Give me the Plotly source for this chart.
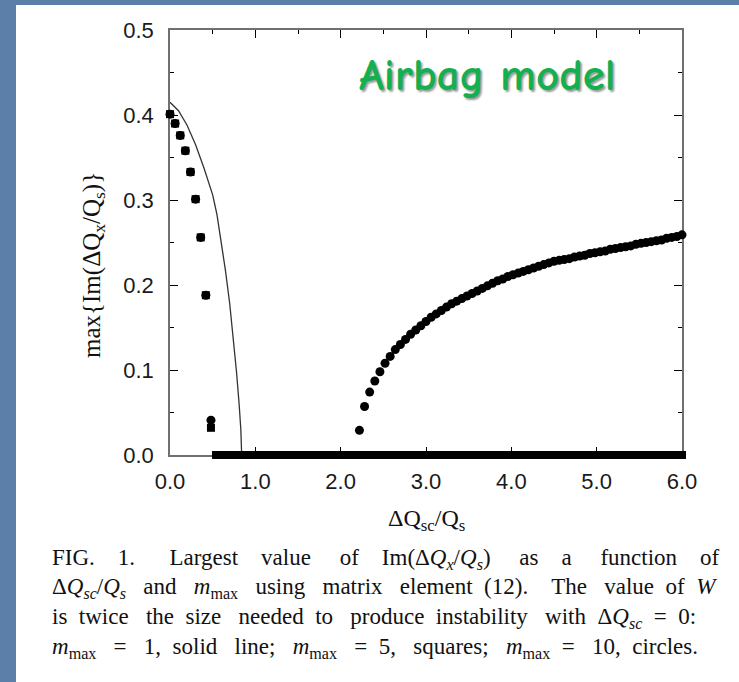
import plotly.graph_objects as go

# ---------------- data ----------------
# m_max = 1 (solid line)
line_x = [0.0, 0.1, 0.2, 0.3, 0.4, 0.45, 0.5, 0.55, 0.6, 0.65, 0.7, 0.75, 0.78, 0.81, 0.83, 0.84]
line_y = [0.415, 0.405, 0.388, 0.365, 0.337, 0.322, 0.306, 0.283, 0.252, 0.217, 0.178, 0.130, 0.097, 0.060, 0.030, 0.0]

# left branch (both m_max = 5 and m_max = 10)
left_x = [0.0, 0.06, 0.12, 0.18, 0.24, 0.30, 0.36, 0.42, 0.48]
left_sq = [0.401, 0.390, 0.376, 0.358, 0.333, 0.301, 0.256, 0.188, 0.032]
left_ci = [0.401, 0.390, 0.376, 0.358, 0.333, 0.301, 0.256, 0.188, 0.041]

# stable region (zero growth)
zero_x = [0.54, 0.60, 0.66, 0.72, 0.78, 0.84, 0.90, 0.96, 1.02, 1.08, 1.14, 1.20, 1.26, 1.32,
          1.38, 1.44, 1.50, 1.56, 1.62, 1.68, 1.74, 1.80, 1.86, 1.92, 1.98, 2.04, 2.10, 2.16,
          2.22, 2.28, 2.34, 2.40, 2.46, 2.52, 2.58, 2.64, 2.70, 2.76, 2.82, 2.88, 2.94, 3.00,
          3.06, 3.12, 3.18, 3.24, 3.30, 3.36, 3.42, 3.48, 3.54, 3.60, 3.66, 3.72, 3.78, 3.84,
          3.90, 3.96, 4.02, 4.08, 4.14, 4.20, 4.26, 4.32, 4.38, 4.44, 4.50, 4.56, 4.62, 4.68,
          4.74, 4.80, 4.86, 4.92, 4.98, 5.04, 5.10, 5.16, 5.22, 5.28, 5.34, 5.40, 5.46, 5.52,
          5.58, 5.64, 5.70, 5.76, 5.82, 5.88, 5.94, 6.00]
zero_y = [0.0] * len(zero_x)

# right branch (m_max = 10, circles)
right_x = [2.22, 2.28, 2.34, 2.40, 2.46, 2.52, 2.58, 2.64, 2.70, 2.76, 2.82, 2.88, 2.94, 3.00,
           3.06, 3.12, 3.18, 3.24, 3.30, 3.36, 3.42, 3.48, 3.54, 3.60, 3.66, 3.72, 3.78, 3.84,
           3.90, 3.96, 4.02, 4.08, 4.14, 4.20, 4.26, 4.32, 4.38, 4.44, 4.50, 4.56, 4.62, 4.68,
           4.74, 4.80, 4.86, 4.92, 4.98, 5.04, 5.10, 5.16, 5.22, 5.28, 5.34, 5.40, 5.46, 5.52,
           5.58, 5.64, 5.70, 5.76, 5.82, 5.88, 5.94, 6.00]
right_y = [0.029, 0.057, 0.074, 0.087, 0.098, 0.108, 0.116, 0.124, 0.130, 0.136, 0.142, 0.147,
           0.152, 0.157, 0.162, 0.166, 0.170, 0.174, 0.178, 0.181, 0.184, 0.187, 0.190, 0.193,
           0.196, 0.199, 0.202, 0.205, 0.207, 0.210, 0.212, 0.214, 0.216, 0.218, 0.220, 0.222,
           0.224, 0.226, 0.228, 0.229, 0.230, 0.231, 0.233, 0.234, 0.235, 0.237, 0.238, 0.239,
           0.240, 0.242, 0.243, 0.244, 0.245, 0.246, 0.248, 0.249, 0.250, 0.251, 0.252, 0.253,
           0.255, 0.256, 0.257, 0.259]

x_ticks = [0, 1, 2, 3, 4, 5, 6]
x_ticklabels = ["0.0", "1.0", "2.0", "3.0", "4.0", "5.0", "6.0"]
y_ticks = [0.0, 0.1, 0.2, 0.3, 0.4, 0.5]
y_ticklabels = ["0.0", "0.1", "0.2", "0.3", "0.4", "0.5"]

QX = "Δ<i>Q</i><sub><i>x</i></sub>/<i>Q</i><sub><i>s</i></sub>"
QSC = "Δ<i>Q</i><sub><i>sc</i></sub>"
QS = "<i>Q</i><sub><i>s</i></sub>"
MM = "<i>m</i><sub>max</sub>"
caption_words = [
    ["FIG.", "1.", "Largest", "value", "of", "Im(" + QX + ")", "as", "a", "function", "of"],
    [QSC + "/" + QS, "and", MM, "using", "matrix", "element", "(12).", "The", "value", "of", "<i>W</i>"],
    ["is", "twice", "the", "size", "needed", "to", "produce", "instability", "with", QSC, "=", "0:"],
    [MM, "=", "1,", "solid", "line;", MM, "=", "5,", "squares;", MM, "=", "10,", "circles."],
]
# number of spaces in each gap (justified layout)
caption_gaps = [
    [4, 6, 4, 5, 4, 5, 4, 5, 4],
    [3, 3, 3, 3, 3, 2, 4, 3, 2, 2],
    [2, 3, 2, 3, 2, 3, 2, 3, 2, 2, 2],
    [3, 3, 2, 3, 3, 3, 2, 3, 3, 2, 3, 2],
]

# ---------------- layout geometry ----------------
W, H = 739, 682
L, R, T, B = 170, 682, 30, 455   # plot area in pixels


def xp(px):
    return (px - L) / (R - L)


def yp(py):
    return (B - py) / (B - T)


fig = go.Figure()

fig.add_trace(go.Scatter(x=line_x, y=line_y, mode="lines",
                         line=dict(color="#333333", width=1.3), cliponaxis=False))
fig.add_trace(go.Scatter(x=left_x + zero_x, y=left_sq + zero_y, mode="markers",
                         marker=dict(symbol="square", size=8, color="black"), cliponaxis=False))
fig.add_trace(go.Scatter(x=left_x, y=left_ci, mode="markers",
                         marker=dict(symbol="circle", size=9, color="black"), cliponaxis=False))
fig.add_trace(go.Scatter(x=zero_x, y=zero_y, mode="markers",
                         marker=dict(symbol="circle", size=8, color="black"), cliponaxis=False))
fig.add_trace(go.Scatter(x=right_x, y=right_y, mode="markers",
                         marker=dict(symbol="circle", size=9, color="black"), cliponaxis=False))

axis_common = dict(
    showline=True, linecolor="#707070", linewidth=1.5, mirror="ticks",
    ticks="inside", ticklen=8, tickwidth=1.3, tickcolor="black",
    showgrid=False, zeroline=False, layer="below traces",
    tickfont=dict(family="Liberation Sans, Arial", size=22, color="#1a1a1a"),
)

fig.update_xaxes(range=[0, 6], tickvals=x_ticks, ticktext=x_ticklabels,
                 minor=dict(dtick=0.5, ticks="inside", ticklen=4, tickcolor="black", tickwidth=1),
                 ticklabelstandoff=6, **axis_common)
fig.update_yaxes(range=[0, 0.5], tickvals=y_ticks, ticktext=y_ticklabels,
                 minor=dict(dtick=0.05, ticks="inside", ticklen=4, tickcolor="black", tickwidth=1),
                 ticklabelstandoff=10, **axis_common)

shapes = [dict(type="rect", xref="paper", yref="paper",
               x0=xp(16), x1=xp(W + 5), y0=yp(H + 5), y1=yp(5),
               fillcolor="white", line=dict(width=0), layer="below")]

serif = "Liberation Serif, Times New Roman, serif"
annotations = [
    dict(text="max{Im(ΔQ<sub>x</sub>/Q<sub>s</sub>)}", textangle=-90,
         x=xp(93), y=yp(265), xref="paper", yref="paper", showarrow=False,
         xanchor="center", yanchor="middle", font=dict(family=serif, size=25, color="#111")),
    dict(text="ΔQ<sub>sc</sub>/Q<sub>s</sub>",
         x=xp(426), y=yp(520), xref="paper", yref="paper", showarrow=False,
         xanchor="center", yanchor="middle", font=dict(family=serif, size=24, color="#111")),
    dict(text="<b>Airbag model</b>",
         x=xp(487), y=yp(75), xref="paper", yref="paper", showarrow=False,
         xanchor="center", yanchor="middle",
         font=dict(family="Comic Sans MS, Comic Neue, Lato", size=45, color="#12b04f",
                   shadow="2px 2px 2px #9a9a9a")),
]
NB = "\u00a0"
for words, gaps, cy in zip(caption_words, caption_gaps, [559, 588, 618, 648]):
    txt = words[0]
    for w, g in zip(words[1:], gaps):
        txt += NB * g + w
    annotations.append(dict(text=txt, x=xp(50), y=yp(cy), xref="paper", yref="paper",
                            showarrow=False, xanchor="left", yanchor="middle", align="left",
                            font=dict(family=serif, size=23, color="#111")))

fig.update_layout(
    width=W, height=H,
    margin=dict(l=L, r=W - R, t=T, b=H - B, pad=0),
    paper_bgcolor="#5b7fa9", plot_bgcolor="rgba(0,0,0,0)",
    showlegend=False, shapes=shapes, annotations=annotations,
)

fig.write_html("out.html")
